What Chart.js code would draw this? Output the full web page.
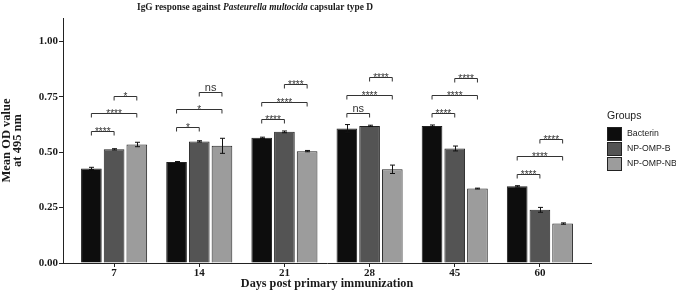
<!DOCTYPE html>
<html><head><meta charset="utf-8">
<script src="https://cdn.jsdelivr.net/npm/chart.js@4.4.1/dist/chart.umd.min.js"></script>
<style>html,body{margin:0;padding:0;background:#fff}#wrap{width:676px;height:294px;position:relative}</style>
</head><body><div id="wrap"><canvas id="c" width="676" height="294"></canvas></div>
<script>
// ---- data ----
const days = ['7', '14', '21', '28', '45', '60'];
const groups = ['Bacterin', 'NP-OMP-B', 'NP-OMP-NB'];
const bacterin = [0.427, 0.456, 0.565, 0.607, 0.619, 0.346];
const npOmpB   = [0.513, 0.549, 0.592, 0.619, 0.517, 0.240];
const npOmpNB  = [0.535, 0.529, 0.505, 0.423, 0.336, 0.178];
const bacterinErr = [0.005, 0.002, 0.003, 0.018, 0.004, 0.003];
const npOmpBErr   = [0.003, 0.003, 0.004, 0.003, 0.011, 0.011];
const npOmpNBErr  = [0.010, 0.034, 0.003, 0.019, 0.002, 0.003];
const yTicks = [0, 0.25, 0.5, 0.75, 1.0];
// significance brackets per day
const sigBactVsBLabel  = ['****', '*', '****', 'ns', '****', '****'];
const sigBactVsBY      = [0.598, 0.615, 0.648, 0.678, 0.679, 0.402];
const sigBactVsNBLabel = ['****', '*', '****', '****', '****', '****'];
const sigBactVsNBY     = [0.678, 0.693, 0.726, 0.757, 0.757, 0.481];
const sigBVsNBLabel    = ['*', 'ns', '****', '****', '****', '****'];
const sigBVsNBY        = [0.756, 0.774, 0.807, 0.838, 0.837, 0.562];

const colors = ['#0d0d0d', '#545454', '#9c9c9c'];
const serif = "'Liberation Serif', 'Times New Roman', serif";
const sans = "'Liberation Sans', Arial, sans-serif";
const ink = '#1a1a1a';

const errs = [bacterinErr, npOmpBErr, npOmpNBErr];
const brackets = [
  {a: 0, b: 1, labels: sigBactVsBLabel, ys: sigBactVsBY},
  {a: 0, b: 2, labels: sigBactVsNBLabel, ys: sigBactVsNBY},
  {a: 1, b: 2, labels: sigBVsNBLabel, ys: sigBVsNBY}
];

const overlay = {
  id: 'overlay',
  afterDatasetsDraw(chart) {
    const ctx = chart.ctx, y = chart.scales.y;
    ctx.save();
    // error bars
    ctx.strokeStyle = '#111'; ctx.lineWidth = 1;
    chart.data.datasets.forEach((ds, di) => {
      const meta = chart.getDatasetMeta(di);
      meta.data.forEach((bar, i) => {
        const v = ds.data[i], e = errs[di][i];
        const x = Math.round(bar.x) + 0.5;
        const y1 = y.getPixelForValue(v + e), y2 = y.getPixelForValue(v - e);
        ctx.beginPath();
        ctx.moveTo(x, y1); ctx.lineTo(x, y2);
        ctx.moveTo(x - 2.5, y1); ctx.lineTo(x + 2.5, y1);
        ctx.moveTo(x - 2.5, y2); ctx.lineTo(x + 2.5, y2);
        ctx.stroke();
      });
    });
    // significance brackets
    ctx.strokeStyle = '#333'; ctx.fillStyle = '#333';
    ctx.textAlign = 'center'; ctx.textBaseline = 'alphabetic';
    brackets.forEach(br => {
      const ma = chart.getDatasetMeta(br.a), mb = chart.getDatasetMeta(br.b);
      br.labels.forEach((lab, i) => {
        const xa = ma.data[i].x, xb = mb.data[i].x;
        const py = Math.round(y.getPixelForValue(br.ys[i])) + 0.5;
        ctx.beginPath();
        ctx.moveTo(xa, py + 4); ctx.lineTo(xa, py); ctx.lineTo(xb, py); ctx.lineTo(xb, py + 4);
        ctx.stroke();
        const isNs = lab === 'ns';
        ctx.font = (isNs ? '11px ' : '10px ') + sans;
        ctx.fillText(lab, (xa + xb) / 2, isNs ? py - 2 : py + 3.5);
      });
    });
    ctx.restore();
  },
  afterDraw(chart) {
    const ctx = chart.ctx;
    ctx.save();
    // title with italic species name
    const runs = [
      ['IgG response against ', 'bold'],
      ['Pasteurella multocida', 'italic bold'],
      [' capsular type D', 'bold']
    ];
    let x = 137;
    ctx.fillStyle = ink; ctx.textBaseline = 'alphabetic'; ctx.textAlign = 'left';
    runs.forEach(([t, st]) => {
      ctx.font = st + ' 9.4px ' + serif;
      ctx.fillText(t, x, 10);
      x += ctx.measureText(t).width;
    });
    // legend
    ctx.font = '10.5px ' + sans;
    ctx.fillStyle = ink;
    ctx.fillText('Groups', 607, 119);
    groups.forEach((g, i) => {
      const top = 127 + i * 15;
      ctx.fillStyle = colors[i];
      ctx.fillRect(607, top, 15, 14);
      ctx.strokeStyle = '#222'; ctx.lineWidth = 1;
      ctx.strokeRect(607.5, top + 0.5, 14, 13);
      ctx.fillStyle = ink;
      ctx.font = '8.7px ' + sans;
      ctx.textBaseline = 'middle';
      ctx.fillText(g, 627, top + 7);
      ctx.textBaseline = 'alphabetic';
    });
    ctx.restore();
  }
};

new Chart(document.getElementById('c'), {
  type: 'bar',
  data: {
    labels: days,
    datasets: [
      {label: groups[0], data: bacterin, backgroundColor: colors[0]},
      {label: groups[1], data: npOmpB, backgroundColor: colors[1]},
      {label: groups[2], data: npOmpNB, backgroundColor: colors[2]}
    ].map(d => Object.assign(d, {borderColor: '#222', borderWidth: 1, categoryPercentage: 0.8, barPercentage: 0.91}))
  },
  options: {
    responsive: false,
    animation: false,
    devicePixelRatio: 1,
    layout: {padding: {top: 18, right: 85, left: 0, bottom: 0}},
    plugins: {legend: {display: false}, title: {display: false}, tooltip: {enabled: false}},
    scales: {
      x: {
        offset: true,
        afterFit: s => { s.height = 31; },
        afterBuildTicks: s => { s._startValue = -0.6; s._valueRange = 6.2; },
        grid: {drawOnChartArea: false, offset: false, tickLength: 4, color: '#222'},
        border: {display: true, color: '#222', width: 1},
        ticks: {font: {family: serif, size: 11, weight: 'bold'}, color: ink, padding: 0},
        title: {display: true, text: 'Days post primary immunization', color: ink,
          font: {family: serif, size: 12.2, weight: 'bold', lineHeight: 1.2}, padding: {top: 0, bottom: 2.5}}
      },
      y: {
        min: 0, max: 1.106,
        afterFit: s => { s.width = 63; },
        afterBuildTicks: s => { s.ticks = yTicks.map(v => ({value: v})); },
        grid: {drawOnChartArea: false, tickLength: 4, color: '#222'},
        border: {display: true, color: '#222', width: 1},
        ticks: {font: {family: serif, size: 11, weight: 'bold'}, color: ink, padding: 1,
          callback: v => Number(v).toFixed(2)},
        title: {display: true, text: ['Mean OD value', 'at 495 nm'], color: ink,
          font: {family: serif, size: 12.5, weight: 'bold', lineHeight: 0.85}, padding: {top: 1.7, bottom: 0}}
      }
    }
  },
  plugins: [overlay]
});
</script>
</body></html>
